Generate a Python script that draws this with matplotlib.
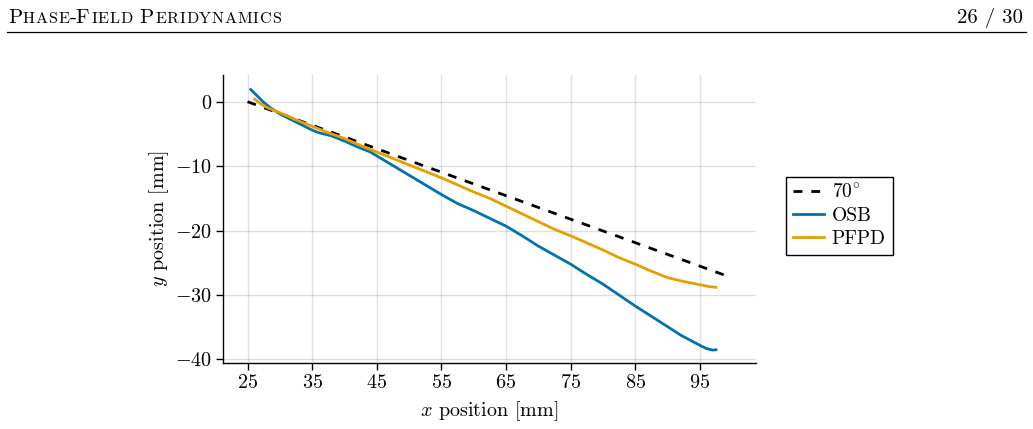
import matplotlib
matplotlib.use("Agg")
import matplotlib.pyplot as plt
import numpy as np

plt.rcParams['font.family'] = ['serif']
plt.rcParams['font.serif'] = ['cmr10']
plt.rcParams['mathtext.fontset'] = 'cm'
plt.rcParams['axes.formatter.use_mathtext'] = True

# ---- data ----
ref_x = [25.0, 99.9]
ref_y = [0.0, -27.3]

osb_x = [25.5, 26.5, 27.5, 28.5, 30, 32, 34, 35, 36, 38, 40, 42, 44, 45, 47.5, 50, 52.5, 55, 57.5, 60,
         62.5, 65, 67.5, 70, 72.5, 75, 77.5, 80, 82.5, 85, 87.5, 90, 92, 93.5, 95, 96, 97, 97.5]
osb_y = [1.9, 0.9, -0.1, -0.9, -1.9, -2.9, -3.9, -4.4, -4.8, -5.3, -6.1, -7.0, -7.8, -8.4, -9.9, -11.4,
         -12.9, -14.4, -15.8, -16.9, -18.1, -19.3, -20.8, -22.4, -23.8, -25.2, -26.8, -28.3, -30.0,
         -31.7, -33.3, -34.9, -36.2, -37.0, -37.8, -38.3, -38.55, -38.5]

pfpd_x = [26.1, 27, 28, 30, 32.5, 35, 37.5, 40, 42.5, 45, 47.5, 50, 52.5, 55, 57.5, 60, 62.5, 65, 67.5,
          70, 72.5, 75, 77.5, 80, 82.5, 85, 87.5, 90, 92.5, 95, 96.5, 97.5]
pfpd_y = [0.4, -0.3, -0.9, -1.7, -2.8, -3.8, -4.8, -5.7, -6.8, -7.8, -8.8, -9.8, -10.8, -11.8, -12.9,
          -14.0, -15.0, -16.2, -17.4, -18.6, -19.8, -20.8, -21.9, -23.0, -24.2, -25.2, -26.3, -27.3,
          -27.9, -28.4, -28.7, -28.8]

xticks = [25, 35, 45, 55, 65, 75, 85, 95]
yticks = [0, -10, -20, -30, -40]

header_parts = [("P", True), ("HASE", False), ("-F", True), ("IELD", False), (" P", True), ("ERIDYNAMICS", False)]
page_text = "26 / 30"

W, H = 1033, 429
fig = plt.figure(figsize=(W / 100, H / 100), dpi=100)

# ---- header (simulated small caps) ----
renderer = fig.canvas.get_renderer()
xpos = 8 / W
ybase = 1 - 23.3 / H
track = 0.75 / W
for s, big in header_parts:
    if big:
        t = fig.text(xpos, ybase, s, fontsize=15, va='baseline', ha='left', family='cmr10')
        xpos += t.get_window_extent(renderer=renderer).width / W + track
    else:
        for ch in s:
            t = fig.text(xpos, ybase, ch, fontsize=11.6, va='baseline', ha='left', family='cmr10')
            xpos += t.get_window_extent(renderer=renderer).width / W + track
fig.text(1 - 10 / W, ybase, page_text, fontsize=15, va='baseline', ha='right', family='cmr10')
fig.add_artist(plt.Line2D([7 / W, 1 - 7 / W], [1 - 31.5 / H, 1 - 31.5 / H], color='black', lw=0.9,
                          transform=fig.transFigure))

# ---- axes ----
ax = fig.add_axes([223 / W, 1 - 363 / H, (756 - 223) / W, (363 - 75) / H])
ax.plot(ref_x, ref_y, color='black', lw=2.0, ls=(0, (3.2, 3.2)), label=r'$70^{\circ}$')
ax.plot(osb_x, osb_y, color='#0072B2', lw=2.0, label='OSB')
ax.plot(pfpd_x, pfpd_y, color='#E69F00', lw=2.0, label='PFPD')

ax.set_xlim(21.2, 103.7)
ax.set_ylim(-40.55, 4.15)
ax.set_xticks(xticks)
ax.set_xticklabels([f'${t}$' for t in xticks])
ax.set_yticks(yticks)
ax.set_yticklabels([f'${t}$' for t in yticks])
ax.tick_params(direction='out', length=5, width=1, labelsize=14.5, pad=3)
ax.grid(True, color='#000000', alpha=0.12, lw=1.0)
ax.set_axisbelow(True)
for s in ['top', 'right']:
    ax.spines[s].set_visible(False)
for s in ['left', 'bottom']:
    ax.spines[s].set_linewidth(1.0)
    ax.spines[s].set_color('black')

ax.set_xlabel(r'$x$ position [mm]', fontsize=14.5, labelpad=5)
ax.set_ylabel(r'$y$ position [mm]', fontsize=14.5, labelpad=3)

leg = fig.legend(loc='upper left', bbox_to_anchor=(786 / W, 1 - 177 / H), fontsize=14,
                 frameon=True, fancybox=False, edgecolor='black', framealpha=1,
                 handlelength=1.6, handletextpad=0.4, labelspacing=0.25, borderpad=0.35,
                 borderaxespad=0)
leg.get_frame().set_linewidth(1.0)

fig.savefig('out.png', dpi=100)
